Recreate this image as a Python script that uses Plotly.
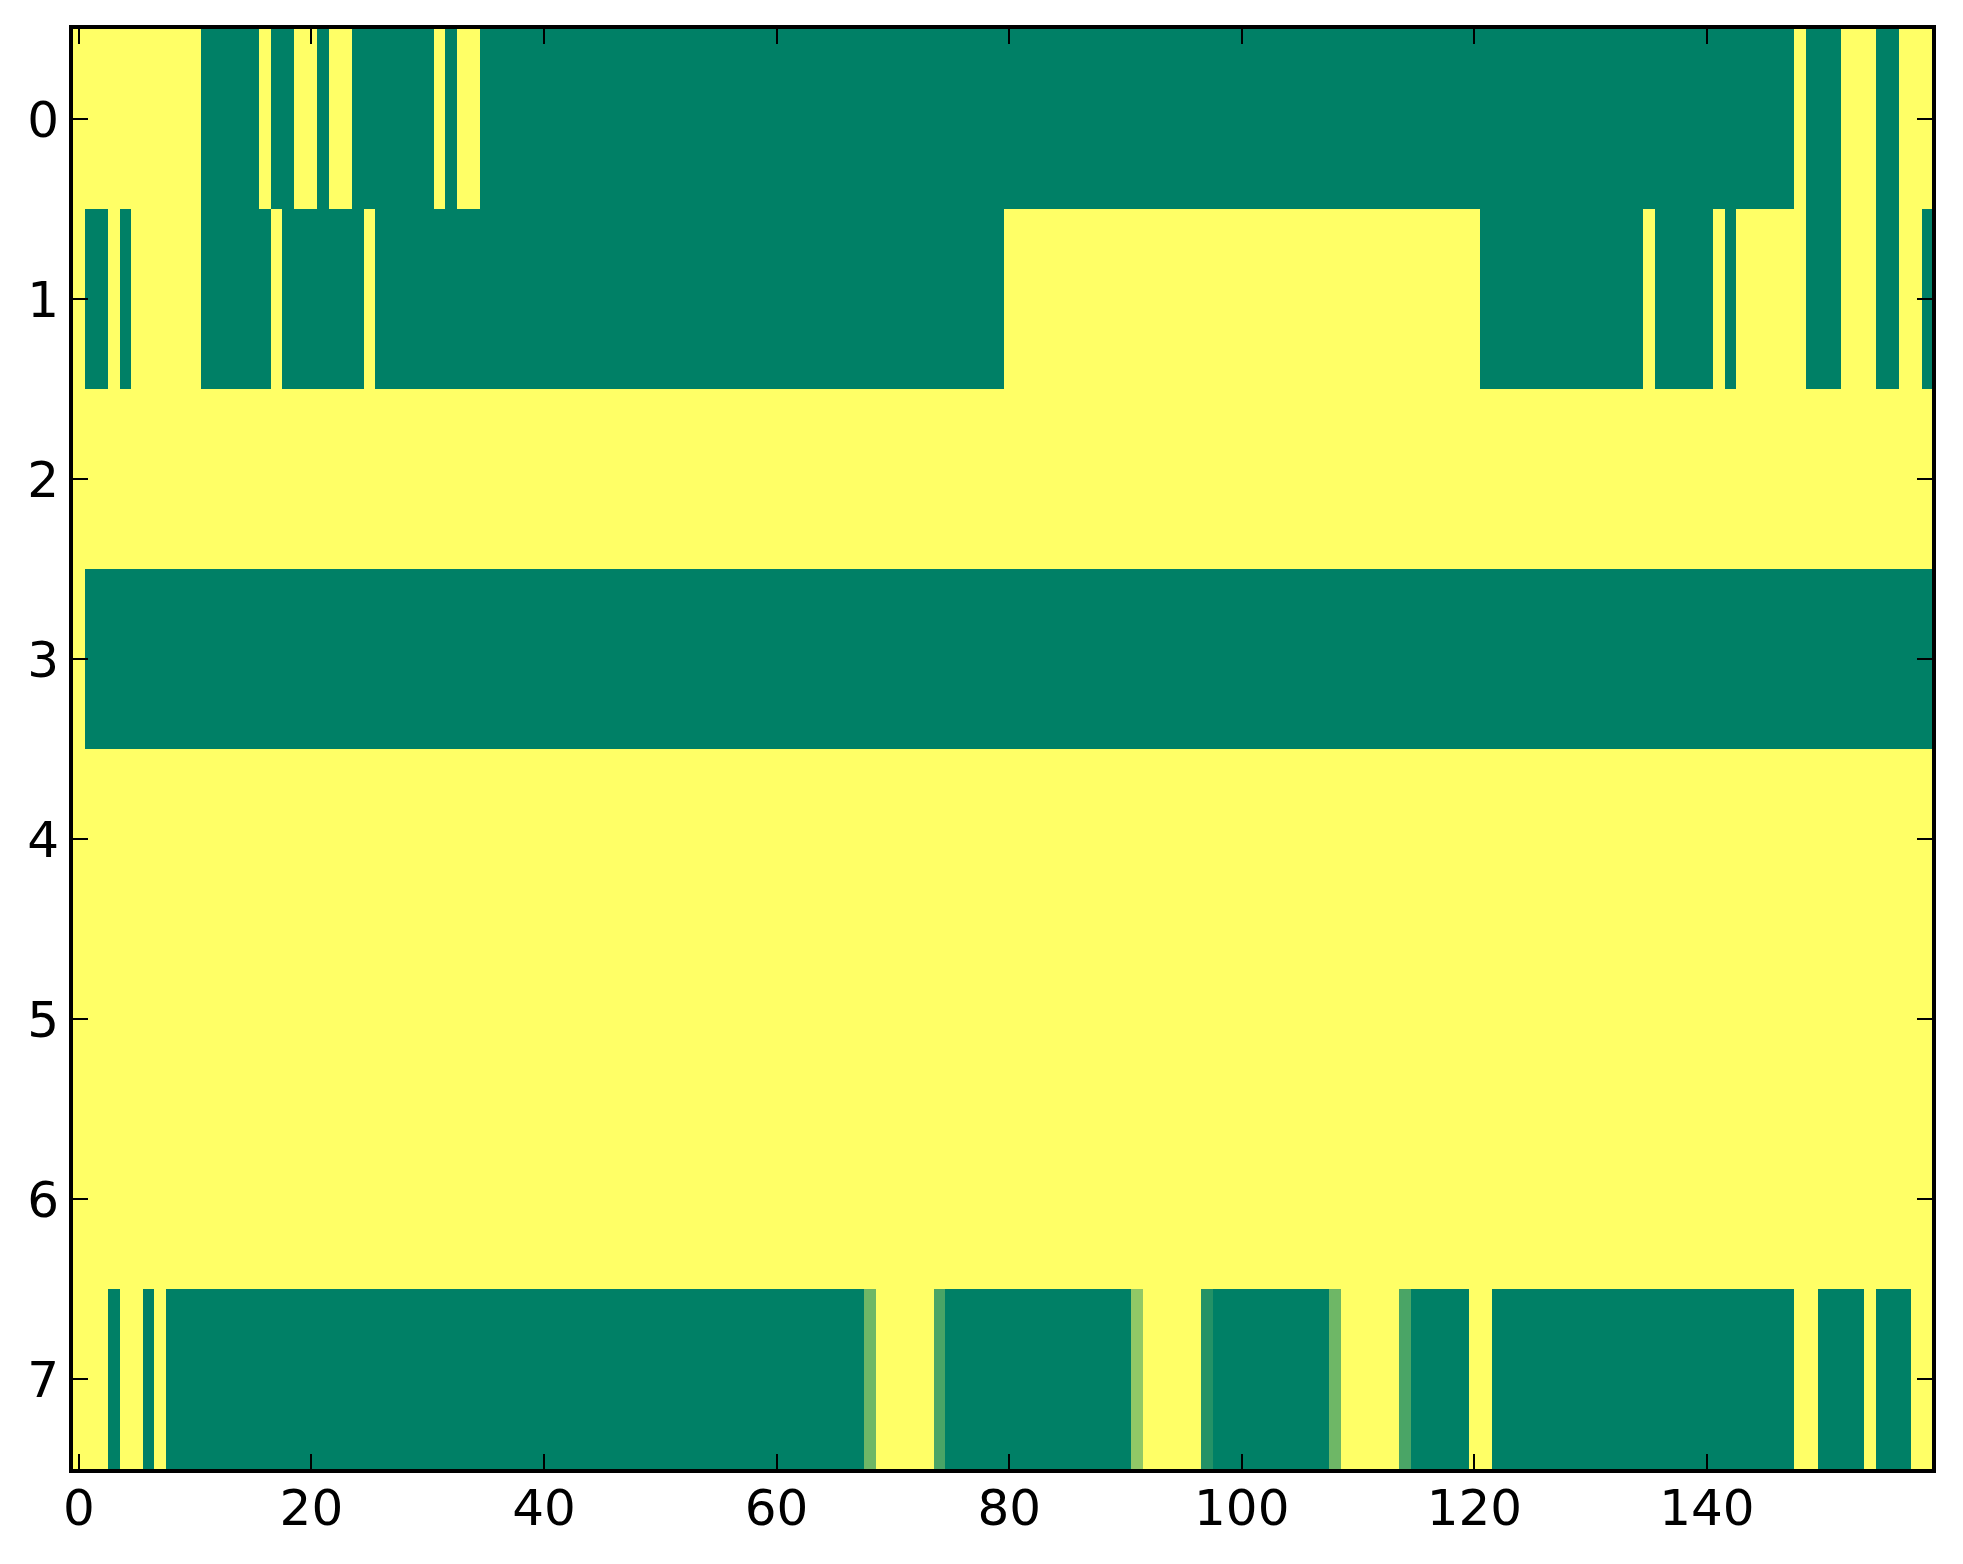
import plotly.graph_objects as go

# Row data as (value, run length); 160 columns per row
row0_runs = [(1, 11), (0, 5), (1, 1), (0, 2), (1, 2), (0, 1), (1, 2), (0, 7), (1, 1), (0, 1),
             (1, 2), (0, 113), (1, 1), (0, 3), (1, 3), (0, 2), (1, 3)]
row1_runs = [(1, 1), (0, 2), (1, 1), (0, 1), (1, 6), (0, 6), (1, 1), (0, 7), (1, 1), (0, 54),
             (1, 41), (0, 14), (1, 1), (0, 5), (1, 1), (0, 1), (1, 6), (0, 3), (1, 3), (0, 2),
             (1, 2), (0, 1)]
row2_runs = [(1, 160)]
row3_runs = [(1, 1), (0, 159)]
row4_runs = [(1, 160)]
row5_runs = [(1, 160)]
row6_runs = [(1, 160)]
row7_runs = [(1, 3), (0, 1), (1, 2), (0, 1), (1, 1), (0, 60), (0.43, 1), (1, 5), (0.29, 1),
             (0, 16), (0.57, 1), (1, 5), (0.14, 1), (0, 10), (0.43, 1), (1, 5), (0.29, 1),
             (0, 5), (1, 2), (0, 26), (1, 2), (0, 4), (1, 1), (0, 3), (1, 2)]

rows = [row0_runs, row1_runs, row2_runs, row3_runs, row4_runs, row5_runs, row6_runs, row7_runs]
x_ticks = [0, 20, 40, 60, 80, 100, 120, 140]
y_ticks = [0, 1, 2, 3, 4, 5, 6, 7]


def expand(runs):
    out = []
    for v, n in runs:
        out.extend([v] * n)
    return out


z = [expand(r) for r in rows]
ncols = len(z[0])

fig = go.Figure(go.Heatmap(
    z=z,
    x=list(range(ncols)),
    y=list(range(len(z))),
    colorscale=[[0, "#008066"], [1, "#ffff66"]],
    zmin=0, zmax=1,
    showscale=False,
    hoverinfo="skip",
))

axis_common = dict(
    showline=True, linecolor="black", linewidth=4, mirror="allticks",
    ticks="inside", ticklen=15, tickwidth=2, tickcolor="black",
    showgrid=False, zeroline=False,
    tickfont=dict(family="DejaVu Sans", size=50, color="black"),
)

fig.update_layout(
    width=1963, height=1564,
    margin=dict(l=73, r=31, t=29, b=95),
    paper_bgcolor="white", plot_bgcolor="white",
    showlegend=False,
    xaxis=dict(range=[-0.5, 159.35], tickmode="array", tickvals=x_ticks,
               ticklabelstandoff=-8, **axis_common),
    yaxis=dict(range=[7.5, -0.5], tickmode="array", tickvals=y_ticks,
               ticklabelstandoff=0, **axis_common),
)

fig.write_html(
    "out.html",
    config={"displayModeBar": False},
    post_script="document.body.style.margin='0';document.body.style.overflow='hidden';",
)
